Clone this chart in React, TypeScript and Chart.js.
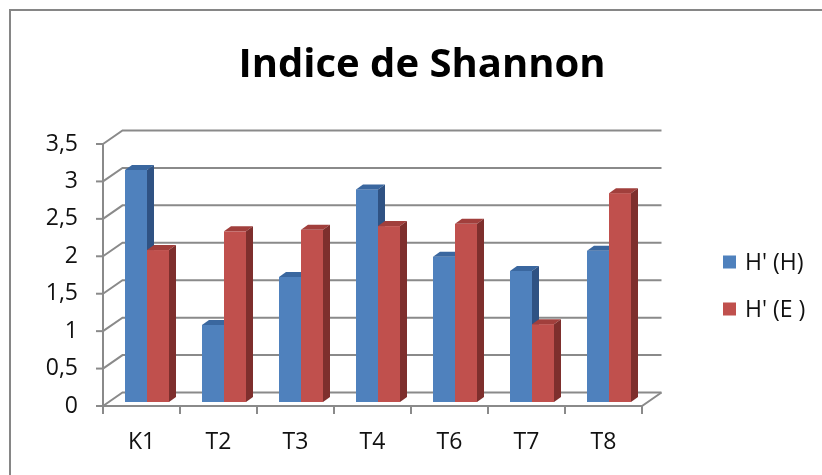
import React, { useEffect, useRef } from "react";
import { Chart, registerables } from "chart.js";

Chart.register(...registerables);

const categories = ["K1", "T2", "T3", "T4", "T6", "T7", "T8"];
const seriesNames = ["H' (H)", "H' (E )"];
const valuesH = [3.1, 1.03, 1.67, 2.84, 1.94, 1.75, 2.02];
const valuesE = [2.03, 2.28, 2.3, 2.35, 2.38, 1.04, 2.79];
const yMin = 0;
const yMax = 3.5;
const yStep = 0.5;
const titleText = "Indice de Shannon";

const FONT = "'Open Sans', 'Noto Sans', sans-serif";
const GRID = "#8a8a8a";
const faces = [
  { front: "#4f81bd", top: "#3a679f", side: "#2f5283" },
  { front: "#c0504d", top: "#a13f3c", side: "#7e2f2d" },
];

// wall depth and bar depth offsets (px)
const WALL_DX = 19.5;
const WALL_DY = -13.5;
const BAR_SX = 5.5;
const BAR_SY = -4;
const BAR_DX = 7;
const BAR_DY = -5;

const scenePlugin = {
  id: "scene3d",
  beforeDatasetsDraw(chart: any) {
    const ctx = chart.ctx as CanvasRenderingContext2D;
    const area = chart.chartArea;
    const ys = chart.scales.y;
    const xs = chart.scales.x;
    ctx.save();
    ctx.strokeStyle = GRID;
    ctx.lineWidth = 2;
    ctx.lineCap = "butt";
    const tickVals: number[] = [];
    for (let v = yMin; v <= yMax + 1e-9; v += yStep) tickVals.push(v);
    tickVals.forEach((v) => {
      const y = ys.getPixelForValue(v);
      ctx.beginPath();
      ctx.moveTo(area.left, y);
      ctx.lineTo(area.left + WALL_DX, y + WALL_DY);
      ctx.lineTo(area.right + WALL_DX, y + WALL_DY);
      ctx.stroke();
      ctx.beginPath();
      ctx.moveTo(area.left - 7, y);
      ctx.lineTo(area.left, y);
      ctx.stroke();
    });
    ctx.beginPath();
    ctx.moveTo(area.left, ys.getPixelForValue(yMax));
    ctx.lineTo(area.left, ys.getPixelForValue(yMin));
    ctx.stroke();
    const y0 = ys.getPixelForValue(yMin);
    ctx.beginPath();
    ctx.moveTo(area.left, y0);
    ctx.lineTo(area.right, y0);
    ctx.lineTo(area.right + WALL_DX, y0 + WALL_DY);
    ctx.stroke();
    const n = categories.length;
    const step = xs.getPixelForValue(1) - xs.getPixelForValue(0);
    for (let i = 0; i <= n; i++) {
      const x = xs.getPixelForValue(0) - step / 2 + i * step;
      ctx.beginPath();
      ctx.moveTo(x, y0);
      ctx.lineTo(x, y0 + 8);
      ctx.stroke();
    }
    ctx.restore();

    const metas = chart.data.datasets.map((_: any, i: number) => chart.getDatasetMeta(i));
    for (let c = 0; c < n; c++) {
      metas.forEach((meta: any, di: number) => {
        const bar = meta.data[c];
        if (!bar) return;
        const p = bar.getProps(["x", "y", "base", "width"], true);
        const l = p.x - p.width / 2 + BAR_SX;
        const r = p.x + p.width / 2 + BAR_SX;
        const t = p.y + BAR_SY;
        const b = p.base + BAR_SY;
        const f = faces[di];
        ctx.save();
        ctx.fillStyle = f.front;
        ctx.fillRect(l, t, r - l, b - t);
        ctx.fillStyle = f.top;
        ctx.beginPath();
        ctx.moveTo(l, t);
        ctx.lineTo(l + BAR_DX, t + BAR_DY);
        ctx.lineTo(r + BAR_DX, t + BAR_DY);
        ctx.lineTo(r, t);
        ctx.closePath();
        ctx.fill();
        ctx.fillStyle = f.side;
        ctx.beginPath();
        ctx.moveTo(r, t);
        ctx.lineTo(r + BAR_DX, t + BAR_DY);
        ctx.lineTo(r + BAR_DX, b + BAR_DY);
        ctx.lineTo(r, b);
        ctx.closePath();
        ctx.fill();
        ctx.restore();
      });
    }
    return false;
  },
  afterDraw(chart: any) {
    const ctx = chart.ctx as CanvasRenderingContext2D;
    ctx.save();
    ctx.strokeStyle = "#868686";
    ctx.lineWidth = 2;
    ctx.beginPath();
    ctx.moveTo(10, 480);
    ctx.lineTo(10, 10);
    ctx.lineTo(830, 10);
    ctx.stroke();
    ctx.fillStyle = "#000000";
    ctx.font = `bold 40px ${FONT}`;
    ctx.textAlign = "center";
    ctx.textBaseline = "alphabetic";
    ctx.fillText(titleText, 422, 77);
    ctx.font = `23px ${FONT}`;
    ctx.textAlign = "left";
    ctx.textBaseline = "middle";
    const legendY = [262, 309];
    chart.data.datasets.forEach((ds: any, i: number) => {
      ctx.fillStyle = faces[i].front;
      ctx.fillRect(723, legendY[i] - 6.5, 13, 13);
      ctx.fillStyle = "#111111";
      ctx.fillText(ds.label, 745, legendY[i] + 1);
    });
    ctx.restore();
  },
};

export default function App() {
  const ref = useRef<HTMLCanvasElement | null>(null);
  useEffect(() => {
    if (!ref.current) return;
    const chart = new Chart(ref.current, {
      type: "bar",
      data: {
        labels: categories,
        datasets: [
          { label: seriesNames[0], data: valuesH, backgroundColor: faces[0].front },
          { label: seriesNames[1], data: valuesE, backgroundColor: faces[1].front },
        ],
      },
      options: {
        responsive: false,
        animation: false,
        devicePixelRatio: 1,
        layout: { padding: { left: 0, right: 180, top: 144, bottom: 0 } },
        datasets: { bar: { categoryPercentage: 44 / 77, barPercentage: 1 } } as any,
        plugins: {
          legend: { display: false },
          title: { display: false },
          tooltip: { enabled: false },
        },
        scales: {
          x: {
            offset: true,
            grid: { display: false, drawTicks: false },
            border: { display: false },
            ticks: { padding: 23, color: "#111111", font: { family: FONT, size: 23 } },
            afterFit: (s: any) => { s.height = 69; },
          },
          y: {
            min: yMin,
            max: yMax,
            grid: { display: false, drawTicks: false },
            border: { display: false },
            ticks: {
              stepSize: yStep,
              padding: 25,
              color: "#111111",
              font: { family: FONT, size: 23 },
              callback: (v: any) => String(v).replace(".", ","),
            },
            afterFit: (s: any) => { s.width = 103; },
          },
        },
      },
      plugins: [scenePlugin],
    });
    return () => chart.destroy();
  }, []);
  return (
    <div style={{ position: "fixed", left: 0, top: 0, width: 822, height: 475, background: "#fff" }}>
      <canvas ref={ref} width={822} height={475} />
    </div>
  );
}
